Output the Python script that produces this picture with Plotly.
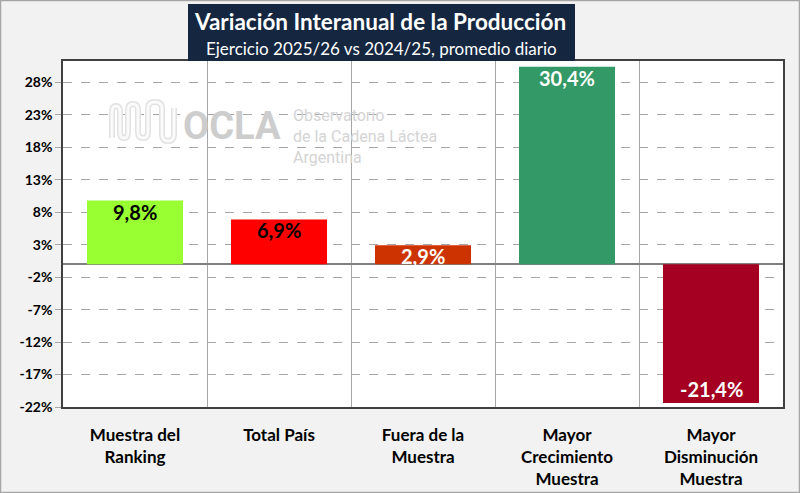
import plotly.graph_objects as go

# data
categories = [
    "Muestra del<br>Ranking",
    "Total País",
    "Fuera de la<br>Muestra",
    "Mayor<br>Crecimiento<br>Muestra",
    "Mayor<br>Disminución<br>Muestra",
]
values = [9.8, 6.9, 2.9, 30.4, -21.4]
bar_colors = ["#99FF33", "#FF0000", "#CC3300", "#339966", "#A50021"]
label_colors = ["#000000", "#000000", "#FFFFFF", "#FFFFFF", "#FFFFFF"]
y_ticks = [28, 23, 18, 13, 8, 3, -2, -7, -12, -17, -22]

TITLE = "Variación Interanual de la Producción"
SUBTITLE = "Ejercicio 2025/26 vs 2024/25, promedio diario"
WATERMARK = ["Observatorio", "de la Cadena Láctea", "Argentina"]

W, H = 800, 493
ML, MR, MT, MB = 63, 17, 61, 86
PW, PH = W - ML - MR, H - MT - MB
FONT = "Lato"


def px_x(x):
    return (x - ML) / PW


def px_y(y):
    return (H - MB - y) / PH


def text_at(x, y, text, size, color, xanchor="center", family=FONT, align="center"):
    fig.add_annotation(xref="paper", yref="paper", x=px_x(x), y=px_y(y),
                       xanchor=xanchor, yanchor="middle", text=text, align=align,
                       showarrow=False,
                       font=dict(family=family, size=size, color=color))


fig = go.Figure()
fig.add_trace(go.Bar(
    x=categories,
    y=values,
    width=0.667,
    marker=dict(color=bar_colors, line=dict(width=0)),
    hoverinfo="skip",
))

# value labels just inside the end of each bar
for cat, val, col in zip(categories, values, label_colors):
    fig.add_annotation(x=cat, y=val, text=f"<b>{val:.1f}%</b>".replace(".", ","),
                       showarrow=False, yanchor="middle",
                       yshift=-11 if val >= 0 else 14,
                       font=dict(family=FONT, size=20, color=col))

# outer frame
fig.add_shape(type="rect", xref="paper", yref="paper", layer="below",
              x0=px_x(0.5), x1=px_x(W - 0.5), y0=px_y(H - 0.5), y1=px_y(0.5),
              line=dict(color="#A6A6A6", width=1.5), fillcolor="rgba(0,0,0,0)")
# title box
fig.add_shape(type="rect", xref="paper", yref="paper",
              x0=px_x(188), x1=px_x(575), y0=px_y(61), y1=px_y(4),
              line=dict(width=0), fillcolor="#142640")
text_at(380, 22, f"<b>{TITLE}</b>", 22.5, "white")
text_at(381, 48, SUBTITLE, 17, "white")

# watermark: wave icon + OCLA text
wave = [
    ("M", 112, 138), ("L", 112, 112), ("Q", 112, 106, 116, 106), ("Q", 120, 106, 120, 112),
    ("L", 120, 132), ("Q", 120, 138, 124, 138), ("Q", 128, 138, 128, 132),
    ("L", 128, 110), ("Q", 128, 104, 133, 104), ("Q", 138, 104, 138, 110),
    ("L", 138, 132), ("Q", 138, 138, 143, 138), ("Q", 148, 138, 148, 132),
    ("L", 148, 108), ("Q", 148, 102, 155, 102), ("Q", 162, 102, 162, 108),
    ("L", 162, 134), ("Q", 162, 141, 168, 141), ("Q", 174, 141, 174, 134),
    ("L", 174, 108),
]
path = " ".join(
    seg[0] + " ".join(f"{px_x(seg[k]):.5f},{px_y(seg[k + 1]):.5f}" for k in range(1, len(seg), 2))
    for seg in wave
)
fig.add_shape(type="path", xref="paper", yref="paper", path=path,
              line=dict(color="#E2E2E2", width=6), layer="above")
fig.add_shape(type="path", xref="paper", yref="paper", path=path,
              line=dict(color="#FAFAFA", width=3), layer="above")
text_at(181, 126, "<b>OCLA</b>", 38, "#CDCDCD", xanchor="left", family="Roboto")
text_at(291, 136, "<br>".join(WATERMARK), 16, "#D4D4D4", xanchor="left",
        family="Roboto", align="left")

fig.update_layout(
    width=W,
    height=H,
    margin=dict(l=ML, r=MR, t=MT, b=MB),
    paper_bgcolor="#F2F2F2",
    plot_bgcolor="white",
    showlegend=False,
    bargap=0.333,
    font=dict(family=FONT, color="#000000"),
)
fig.update_xaxes(
    tickson="boundaries",
    showgrid=True,
    gridcolor="#A6A6A6",
    gridwidth=1,
    ticks="",
    showline=True,
    linecolor="#404040",
    linewidth=1.5,
    mirror=True,
    automargin=False,
    ticklabelstandoff=12,
    tickfont=dict(family=FONT, size=17, color="#000000", weight="bold"),
)
fig.update_yaxes(
    range=[-22, 31.3],
    tickvals=y_ticks,
    ticktext=[f"{t}%" for t in y_ticks],
    showgrid=True,
    gridcolor="#A6A6A6",
    griddash="dash",
    gridwidth=1,
    zeroline=True,
    zerolinecolor="#808080",
    zerolinewidth=1.5,
    ticks="outside",
    ticklen=6,
    tickcolor="#A6A6A6",
    showline=True,
    linecolor="#404040",
    linewidth=1.5,
    mirror=True,
    automargin=False,
    tickfont=dict(family=FONT, size=14, color="#000000", weight="bold"),
)

fig.write_html("out.html", config={"displayModeBar": False},
               post_script="document.body.style.margin='0px';")
